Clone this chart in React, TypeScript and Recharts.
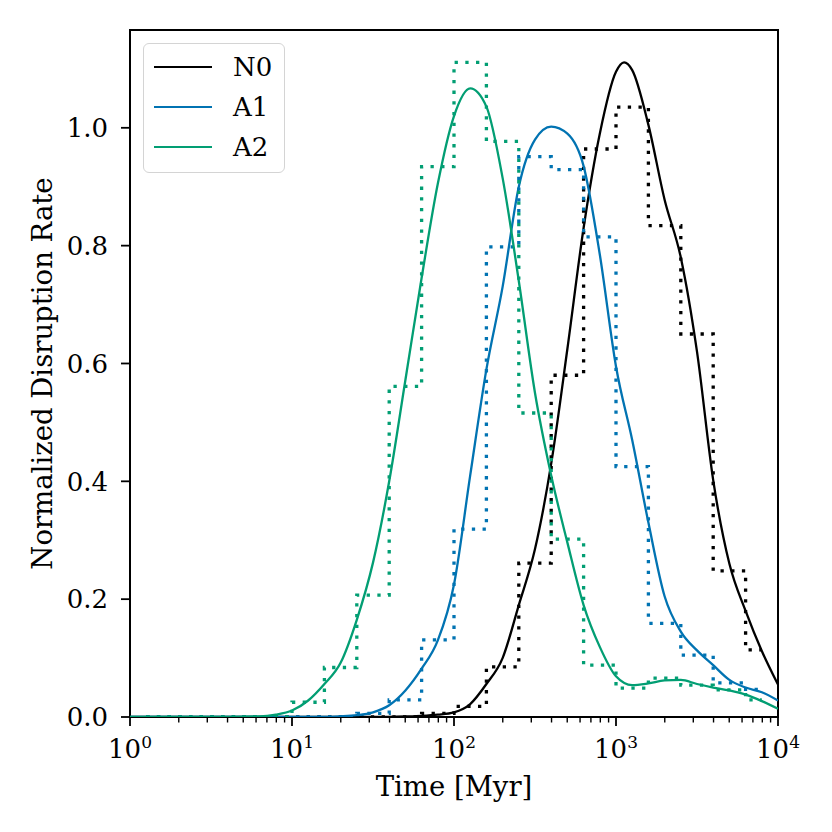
import React from 'react';
import { LineChart, Line, XAxis, YAxis, Legend, ReferenceArea, Label } from 'recharts';

// histogram bin centres (log10 of time), drawn as mid-steps
const binExp = [0.1, 0.3, 0.5, 0.7, 0.9, 1.1, 1.3, 1.5, 1.7, 1.9, 2.1, 2.3, 2.5, 2.7, 2.9, 3.1, 3.3, 3.5, 3.7, 3.9];
const n0Hist = [0, 0, 0, 0, 0, 0, 0, 0, 0, 0.006, 0.018, 0.085, 0.261, 0.58, 0.964, 1.035, 0.834, 0.65, 0.248, 0.114];
const a1Hist = [0, 0, 0, 0, 0, 0, 0, 0.006, 0.029, 0.131, 0.319, 0.798, 0.951, 0.929, 0.815, 0.425, 0.159, 0.105, 0.058, 0.047];
const a2Hist = [0, 0, 0, 0, 0, 0.025, 0.084, 0.207, 0.561, 0.934, 1.111, 0.977, 0.516, 0.302, 0.088, 0.049, 0.066, 0.054, 0.046, 0.029];

// smooth curves (log10 of time, value)
const n0KdeExp = [0, 0.5, 1.0, 1.5, 1.7, 1.8, 1.9, 2.0, 2.1, 2.2, 2.3, 2.4, 2.5, 2.6, 2.7, 2.8, 2.9, 3.0, 3.05, 3.1, 3.2, 3.3, 3.4, 3.5, 3.6, 3.7, 3.8, 3.9, 4.0];
const n0KdeVal = [0, 0, 0, 0, 0.001, 0.002, 0.004, 0.008, 0.022, 0.056, 0.1, 0.19, 0.285, 0.43, 0.625, 0.83, 0.99, 1.095, 1.111, 1.098, 1.005, 0.878, 0.78, 0.62, 0.402, 0.26, 0.18, 0.112, 0.055];

const a1KdeExp = [0, 0.5, 1.0, 1.2, 1.3, 1.4, 1.5, 1.6, 1.7, 1.8, 1.9, 2.0, 2.1, 2.2, 2.3, 2.4, 2.5, 2.6, 2.7, 2.8, 2.9, 3.0, 3.1, 3.2, 3.3, 3.4, 3.5, 3.6, 3.7, 3.8, 3.9, 4.0];
const a1KdeVal = [0, 0, 0, 0, 0.001, 0.003, 0.008, 0.02, 0.045, 0.082, 0.13, 0.225, 0.41, 0.59, 0.73, 0.9, 0.98, 1.002, 0.99, 0.935, 0.785, 0.595, 0.47, 0.33, 0.205, 0.145, 0.113, 0.088, 0.063, 0.05, 0.042, 0.028];

const a2KdeExp = [0, 0.5, 0.8, 0.9, 1.0, 1.1, 1.2, 1.3, 1.4, 1.5, 1.6, 1.7, 1.8, 1.9, 2.0, 2.1, 2.2, 2.3, 2.4, 2.5, 2.6, 2.7, 2.8, 2.9, 3.0, 3.1, 3.2, 3.3, 3.4, 3.5, 3.6, 3.7, 3.8, 3.9, 4.0];
const a2KdeVal = [0, 0, 0.001, 0.004, 0.011, 0.028, 0.056, 0.092, 0.165, 0.262, 0.4, 0.572, 0.745, 0.905, 1.02, 1.067, 1.036, 0.915, 0.74, 0.55, 0.41, 0.296, 0.19, 0.119, 0.069, 0.054, 0.057, 0.062, 0.063, 0.056, 0.05, 0.045, 0.038, 0.027, 0.014];

const seriesNames = ['N0', 'A1', 'A2'];
const majorTicks = [1, 10, 100, 1000, 10000];
const minorTicks = [
  2, 3, 4, 5, 6, 7, 8, 9,
  20, 30, 40, 50, 60, 70, 80, 90,
  200, 300, 400, 500, 600, 700, 800, 900,
  2000, 3000, 4000, 5000, 6000, 7000, 8000, 9000,
];
const yTicks = [0, 0.2, 0.4, 0.6, 0.8, 1.0];

const BLACK = '#000000';
const BLUE = '#0173b2';
const GREEN = '#029e73';
const FONT = '"DejaVu Serif", serif';

const toPoints = (exps: number[], vals: number[]) => exps.map((e, i) => ({ x: Math.pow(10, e), y: vals[i] }));

const TimeTick = (props: any) => {
  const { x, y, payload } = props;
  const v = payload.value;
  const isMajor = majorTicks.includes(v);
  const exp = Math.round(Math.log10(v));
  return (
    <g>
      <line x1={x} x2={x} y1={y} y2={y + (isMajor ? 9 : 5.5)} stroke={BLACK} strokeWidth={isMajor ? 1.8 : 1.4} />
      {isMajor && (
        <text x={x} y={y + 41} textAnchor="middle" fontFamily={FONT} fontSize={26} fill={BLACK}>
          10
          <tspan dy={-10} fontSize={17}>{exp}</tspan>
        </text>
      )}
    </g>
  );
};

const renderLegend = (props: any) => {
  const items = (props.payload || [])
    .filter((p: any) => p.type !== 'none')
    .sort((a: any, b: any) => seriesNames.indexOf(a.value) - seriesNames.indexOf(b.value));
  return (
    <div
      style={{
        width: 142,
        height: 130,
        boxSizing: 'border-box',
        border: '1.5px solid #d4d4d4',
        borderRadius: 6,
        background: 'rgba(255,255,255,0.8)',
        paddingTop: 3,
        fontFamily: FONT,
        fontSize: 26,
      }}
    >
      {items.map((it: any) => (
        <div key={it.value} style={{ display: 'flex', alignItems: 'center', height: 40 }}>
          <svg width={89} height={40}>
            <line x1={10} x2={68} y1={20} y2={20} stroke={it.color} strokeWidth={2.2} />
          </svg>
          <span style={{ color: BLACK }}>{it.value}</span>
        </div>
      ))}
    </div>
  );
};

const App: React.FC = () => {
  const stepProps = {
    type: 'step' as const,
    dataKey: 'y',
    dot: false,
    strokeWidth: 3.3,
    strokeDasharray: '3.3 7.4',
    legendType: 'none' as const,
    isAnimationActive: false,
  };
  const curveProps = {
    type: 'monotone' as const,
    dataKey: 'y',
    dot: false,
    strokeWidth: 2.3,
    isAnimationActive: false,
  };

  return (
    <div style={{ position: 'absolute', left: 0, top: 0, width: 832, height: 832, background: '#fff' }}>
      <LineChart width={832} height={832} margin={{ top: 30, right: 54, bottom: 15, left: 0 }}>
        <XAxis
          dataKey="x"
          type="number"
          scale="log"
          domain={[1, 10000]}
          allowDataOverflow
          ticks={[...majorTicks, ...minorTicks]}
          interval={0}
          tick={<TimeTick />}
          tickLine={false}
          axisLine={false}
          tickSize={0}
          tickMargin={0}
          height={100}
        >
          <Label
            content={(p: any) => (
              <text
                x={p.viewBox.x + p.viewBox.width / 2}
                y={p.viewBox.y + 79}
                textAnchor="middle"
                fontFamily={FONT}
                fontSize={27.5}
                fill={BLACK}
              >
                Time [Myr]
              </text>
            )}
          />
        </XAxis>
        <YAxis
          type="number"
          domain={[0, 1.166]}
          allowDataOverflow
          ticks={yTicks}
          tickFormatter={(v: number) => v.toFixed(1)}
          width={130}
          axisLine={false}
          tickSize={9}
          tickMargin={13}
          tickLine={{ stroke: BLACK, strokeWidth: 1.8 }}
          tick={{ fontFamily: FONT, fontSize: 26, fill: BLACK }}
        >
          <Label
            content={(p: any) => {
              const cx = 52;
              const cy = p.viewBox.y + p.viewBox.height / 2;
              return (
                <text
                  x={cx}
                  y={cy}
                  transform={`rotate(-90 ${cx} ${cy})`}
                  textAnchor="middle"
                  fontFamily={FONT}
                  fontSize={27.5}
                  fill={BLACK}
                >
                  Normalized Disruption Rate
                </text>
              );
            }}
          />
        </YAxis>

        <Line {...curveProps} data={toPoints(n0KdeExp, n0KdeVal)} name="N0" stroke={BLACK} />
        <Line {...stepProps} data={toPoints(binExp, n0Hist)} name="N0 hist" stroke={BLACK} />
        <Line {...curveProps} data={toPoints(a1KdeExp, a1KdeVal)} name="A1" stroke={BLUE} />
        <Line {...stepProps} data={toPoints(binExp, a1Hist)} name="A1 hist" stroke={BLUE} />
        <Line {...curveProps} data={toPoints(a2KdeExp, a2KdeVal)} name="A2" stroke={GREEN} />
        <Line {...stepProps} data={toPoints(binExp, a2Hist)} name="A2 hist" stroke={GREEN} />

        <ReferenceArea x1={1} x2={10000} y1={0} y2={1.166} fill="none" stroke={BLACK} strokeWidth={2} ifOverflow="visible" />

        <Legend
          layout="horizontal"
          align="center"
          verticalAlign="middle"
          content={renderLegend}
          wrapperStyle={{ left: 143, top: 43, width: 142, height: 130 }}
        />
      </LineChart>
    </div>
  );
};

export default App;
